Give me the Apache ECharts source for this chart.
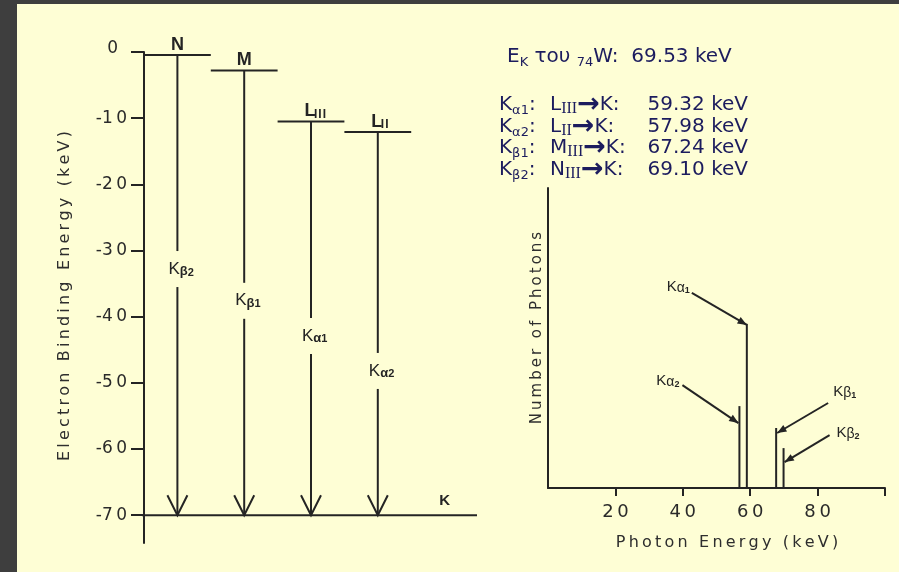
<!DOCTYPE html>
<html><head><meta charset="utf-8">
<script src="https://cdn.jsdelivr.net/npm/echarts@6/dist/echarts.min.js"></script>
<style>html,body{margin:0;padding:0;background:#3e3e3e}#c{width:899px;height:572px}</style>
</head><body><div id="c"></div>
<script>
// ---------------- data ----------------
// energy-level diagram (left)
const shellNames  = ['N', 'M', 'L', 'L', 'K'];
const shellSubs   = ['', '', 'III', 'II', ''];
const shellEnergy = [-0.45, -2.8, -10.5, -12.1, -70];       // keV, as drawn
const bindingTicks = [0, -10, -20, -30, -40, -50, -60, -70];
const transitionFrom  = [0, 1, 2, 3];
const transitionGreek = ['β', 'β', 'α', 'α'];
const transitionIndex = ['2', '1', '1', '2'];

// photon spectrum (right)
const peakGreek  = ['α', 'α', 'β', 'β'];
const peakIndex  = ['2', '1', '1', '2'];
const peakEnergy = [56.8, 59.0, 67.7, 69.9];                // keV
const peakCounts = [27.3, 54.7, 20.0, 13.3];                // arbitrary units
const photonTickLabels = [20, 40, 60, 80];
const photonTickMarks  = [20, 40, 60, 80, 100];

// text table (upper right)
const edgeEnergy   = 69.53;
const tableGreek   = ['α', 'α', 'β', 'β'];
const tableIndex   = ['1', '2', '1', '2'];
const tableFrom    = ['L', 'L', 'M', 'N'];
const tableFromSub = ['III', 'II', 'III', 'III'];
const tableEnergy  = [59.32, 57.98, 67.24, 69.10];

// ---------------- style / layout ----------------
const INK = '#242424';
const NAVY = '#1c1c5e';
const F = 'DejaVu Sans';
const FL = 'Liberation Sans';
const spaced = s => String(s).split('').join('\u2009');
const tick = v => String(v).replace(/(\d)(?=\d)/g, '$1\u2009');
const transLabelAt = [-32.8, -37.6, -42.9, -48.2];   // where the names sit on the arrows
const annot = [
  {tip: [-1, 17], tail: [-56, -38], lab: [-3, -4], side: 'right'},
  {tip: [0, 1],   tail: [-55, -32], lab: [-2, -6], side: 'right'},
  {tip: [1, 5],   tail: [51, -30],  lab: [5, -11], side: 'left'},
  {tip: [1, 14],  tail: [45, -27],  lab: [7, -2],  side: 'left'}
];
const line = (x1, y1, x2, y2, w) => ({type: 'line', shape: {x1, y1, x2, y2}, style: {stroke: INK, lineWidth: w || 2}});

const chart = echarts.init(document.getElementById('c'));
const lastShell = shellEnergy.length - 1;

const option = {
  backgroundColor: '#3e3e3e',
  animation: false,
  grid: [
    {left: 144, top: 52, width: 334, bottom: 29},
    {left: 548, right: 14, top: 188, bottom: 84}
  ],
  xAxis: [
    {gridIndex: 0, type: 'category', data: shellNames.map((n, i) => n + shellSubs[i]), show: false},
    {gridIndex: 1, type: 'value', min: 0, max: 100, interval: 20,
      axisLine: {show: true, lineStyle: {color: INK, width: 2}},
      axisTick: {show: true, customValues: photonTickMarks, length: 8, lineStyle: {color: INK, width: 2}},
      axisLabel: {customValues: photonTickLabels, color: '#2a2a2a', fontFamily: F, fontSize: 18, margin: 15, formatter: v => tick(v)},
      splitLine: {show: false}}
  ],
  yAxis: [
    {gridIndex: 0, type: 'value', min: -74.2, max: 0,
      axisLine: {show: true, onZero: false, lineStyle: {color: INK, width: 2}},
      axisTick: {show: true, customValues: bindingTicks, length: 13, lineStyle: {color: INK, width: 2}},
      axisLabel: {customValues: bindingTicks, color: '#2a2a2a', fontFamily: F, fontSize: 17, margin: 17,
        formatter: v => (v === 0 ? '{z|0}' : tick(v)),
        rich: {z: {fontFamily: F, fontSize: 17, color: '#2a2a2a', padding: [0, 9, 6, 0]}}},
      splitLine: {show: false}},
    {gridIndex: 1, type: 'value', min: 0, max: 100,
      axisLine: {show: true, onZero: false, lineStyle: {color: INK, width: 2}},
      axisTick: {show: false}, axisLabel: {show: false}, splitLine: {show: false}}
  ],
  series: [
    { // shells
      type: 'custom', xAxisIndex: 0, yAxisIndex: 0, clip: false,
      data: shellEnergy.map((e, i) => [i, e]),
      renderItem(params, api) {
        const i = params.dataIndex;
        const p = api.coord([api.value(0), api.value(1)]);
        const bw = api.size([1, 0])[0];
        const cs = params.coordSys;
        const ch = [];
        if (i === lastShell) {
          ch.push(line(cs.x - 2, p[1], cs.x + cs.width - 1, p[1]));
          ch.push({type: 'text', style: {text: shellNames[i], x: p[0], y: p[1] - 14, align: 'center', verticalAlign: 'middle',
            fontFamily: FL, fontWeight: 'bold', fontSize: 15, fill: INK}});
        } else {
          ch.push(line(p[0] - bw / 2, p[1], p[0] + bw / 2, p[1]));
          const hasSub = !!shellSubs[i];
          ch.push({type: 'text', style: {text: shellNames[i], x: hasSub ? p[0] - 1 : p[0], y: p[1] - 1, align: 'center', verticalAlign: 'bottom',
            fontFamily: FL, fontWeight: 'bold', fontSize: 18, fill: INK}});
          if (hasSub) ch.push({type: 'text', style: {text: shellSubs[i].split('').join('\u200a'), x: p[0] + 3, y: p[1] - 1, align: 'left', verticalAlign: 'bottom',
            fontFamily: FL, fontWeight: 'bold', fontSize: 12, fill: INK}});
        }
        return {type: 'group', children: ch};
      }
    },
    { // transitions (arrows to K)
      type: 'custom', xAxisIndex: 0, yAxisIndex: 0, clip: false,
      data: transitionFrom.map(s => [s, shellEnergy[s], shellEnergy[lastShell]]),
      renderItem(params, api) {
        const j = params.dataIndex;
        const x = api.coord([api.value(0), 0])[0];
        const y0 = api.coord([api.value(0), api.value(1)])[1];
        const y1 = api.coord([api.value(0), api.value(2)])[1];
        const ly = api.coord([api.value(0), transLabelAt[j]])[1];
        const ch = [
          line(x, y0, x, ly - 18),
          line(x, ly + 18, x, y1),
          {type: 'polyline', shape: {points: [[x - 10, y1 - 20], [x, y1], [x + 10, y1 - 20]]}, style: {stroke: INK, lineWidth: 2, fill: null}},
          {type: 'text', style: {text: '{k|K}{g|' + transitionGreek[j] + '}{i|' + transitionIndex[j] + '}', x: x - 9, y: ly,
            align: 'left', verticalAlign: 'middle', fill: INK,
            rich: {
              k: {fontFamily: FL, fontSize: 17, lineHeight: 18, fill: INK},
              g: {fontFamily: FL, fontSize: 13, fontWeight: 'bold', lineHeight: 8, verticalAlign: 'bottom', fill: INK},
              i: {fontFamily: FL, fontSize: 11, fontWeight: 'bold', lineHeight: 1, verticalAlign: 'bottom', fill: INK}
            }}}
        ];
        return {type: 'group', children: ch};
      }
    },
    { // spectrum lines + annotations
      type: 'custom', xAxisIndex: 1, yAxisIndex: 1, clip: false,
      data: peakEnergy.map((e, i) => [e, peakCounts[i]]),
      renderItem(params, api) {
        const i = params.dataIndex;
        const top = api.coord([api.value(0), api.value(1)]);
        const base = api.coord([api.value(0), 0]);
        const a = annot[i];
        const tip = [top[0] + a.tip[0], top[1] + a.tip[1]];
        const tail = [tip[0] + a.tail[0], tip[1] + a.tail[1]];
        const ang = Math.atan2(tip[1] - tail[1], tip[0] - tail[0]);
        const hl = 10, hw = 0.38;
        const h1 = [tip[0] - hl * Math.cos(ang - hw), tip[1] - hl * Math.sin(ang - hw)];
        const h2 = [tip[0] - hl * Math.cos(ang + hw), tip[1] - hl * Math.sin(ang + hw)];
        return {type: 'group', children: [
          line(top[0], base[1], top[0], top[1], 2),
          line(tail[0], tail[1], tip[0], tip[1], 2),
          {type: 'polygon', shape: {points: [tip, h1, h2]}, style: {fill: INK}},
          {type: 'text', style: {text: '{k|K}{g|' + peakGreek[i] + '}{i|' + peakIndex[i] + '}', x: tail[0] + a.lab[0], y: tail[1] + a.lab[1],
            align: a.side, verticalAlign: 'middle', fill: INK,
            rich: {
              k: {fontFamily: FL, fontSize: 15, lineHeight: 16, fill: INK},
              g: {fontFamily: FL, fontSize: 14, lineHeight: 12, verticalAlign: 'bottom', fill: INK},
              i: {fontFamily: FL, fontSize: 9, fontWeight: 'bold', lineHeight: 2, verticalAlign: 'bottom', fill: INK}
            }}}
        ]};
      }
    }
  ],
  graphic: []
};

const richT = {
  n: {fontFamily: F, fontSize: 20, lineHeight: 24, fill: NAVY},
  a: {fontFamily: F, fontSize: 27, fontWeight: 'bold', lineHeight: 24, fill: NAVY},
  s: {fontFamily: F, fontSize: 13, lineHeight: 12, verticalAlign: 'bottom', fill: NAVY},
  r: {fontFamily: 'Liberation Serif', fontSize: 16, lineHeight: 11, verticalAlign: 'bottom', fill: NAVY}
};
const G = [];
G.push({type: 'rect', z: -10, silent: true, shape: {x: 17, y: 4, width: 882, height: 568}, style: {fill: '#fefed5'}});
G.push({type: 'text', x: 507, y: 57, style: {text: '{n|E}{s|K}{n| του }{s|74}{n|W:  ' + edgeEnergy.toFixed(2) + ' keV}',
  rich: richT, verticalAlign: 'middle', align: 'left', fill: NAVY}});
const rowY = [105, 127, 148, 170];
tableEnergy.forEach((e, k) => {
  G.push({type: 'text', x: 499, y: rowY[k], style: {text: '{n|K}{s|' + tableGreek[k] + tableIndex[k] + '}{n|:}', rich: richT, verticalAlign: 'middle', align: 'left', fill: NAVY}});
  G.push({type: 'text', x: 550, y: rowY[k], style: {text: '{n|' + tableFrom[k] + '}{r|' + tableFromSub[k] + '}{a|→}{n|K:}', rich: richT, verticalAlign: 'middle', align: 'left', fill: NAVY}});
  G.push({type: 'text', x: 748, y: rowY[k], style: {text: '{n|' + e.toFixed(2) + ' keV}', rich: richT, verticalAlign: 'middle', align: 'right', fill: NAVY}});
});
G.push({type: 'text', x: 65, y: 296, rotation: Math.PI / 2, style: {text: spaced('Electron Binding Energy (keV)'), fontFamily: F, fontSize: 16,
  fill: '#2e2e2e', align: 'center', verticalAlign: 'middle'}});
G.push({type: 'text', x: 537, y: 328, rotation: Math.PI / 2, style: {text: spaced('Number of Photons'), fontFamily: F, fontSize: 15,
  fill: '#2e2e2e', align: 'center', verticalAlign: 'middle'}});
G.push({type: 'text', x: 727, y: 543, style: {text: spaced('Photon Energy (keV)'), fontFamily: F, fontSize: 16,
  fill: '#2e2e2e', align: 'center', verticalAlign: 'middle'}});
option.graphic = G;
chart.setOption(option);
</script>
</body></html>
